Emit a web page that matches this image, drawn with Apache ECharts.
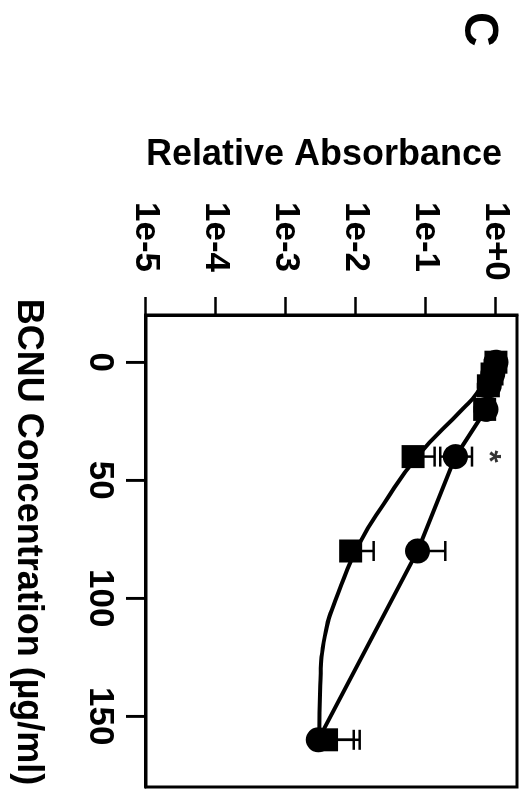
<!DOCTYPE html>
<html>
<head>
<meta charset="utf-8">
<script src="https://cdn.jsdelivr.net/npm/echarts@6/dist/echarts.min.js"></script>
<style>
  html, body { margin: 0; padding: 0; background: #fff; overflow: hidden; }
  #wrap { position: absolute; left: 0; top: 0; width: 522px; height: 790px; overflow: hidden; }
  /* the plot is laid out landscape and turned a quarter turn clockwise */
  #chart { position: absolute; left: 0; top: 0; width: 790px; height: 522px;
           transform-origin: 0 0; transform: translate(522px, 0) rotate(90deg); }
</style>
</head>
<body>
<div id="wrap"><div id="chart"></div></div>
<script>
// BCNU dose (µg/ml)
const doses = [0, 5, 10, 20, 40, 80, 160];
// mean relative absorbance, square group
const squareMeans = [1.0, 0.88, 0.78, 0.69, 0.0655, 0.0084, 0.0038];
// mean relative absorbance, circle group
const circleMeans = [1.0, 0.9, 0.8, 0.72, 0.264, 0.076, 0.0029];
// upper ends of the error bars (null = no visible bar)
const squareUpper = [null, null, null, null, 0.133, 0.0179, 0.0113];
const circleUpper = [null, null, null, null, 0.455, 0.189, 0.0093];
const circleLower = [null, null, null, null, 0.16, null, null];
// fitted curve for the square group
const squareFitDoses = [0, 13, 20, 40, 60, 76, 99, 116, 137, 160];
const squareFit = [0.95, 0.54, 0.33, 0.075, 0.025, 0.0116, 0.0054, 0.0036, 0.0031, 0.003];
// significance mark
const starDoses = [40];
const starLevels = [1.0];
// axis ticks
const doseTicks = [0, 50, 100, 150];
const absTicks = [1e-5, 1e-4, 1e-3, 1e-2, 1e-1, 1];

const FONT = '"Liberation Sans", Arial, Helvetica, sans-serif';
const GRID = { left: 315, top: 5, width: 472, height: 371 };
const zip = (a, b) => a.map((v, i) => [v, b[i]]);

function errorBars(means, upper, lower) {
  const data = [];
  doses.forEach((d, i) => {
    if (upper[i] != null || (lower && lower[i] != null)) {
      data.push([d, means[i], upper[i] != null ? upper[i] : means[i],
                 lower && lower[i] != null ? lower[i] : means[i]]);
    }
  });
  return {
    type: 'custom',
    z: 2,
    data: data,
    encode: { x: 0, y: [1, 2, 3] },
    renderItem: function (params, api) {
      const x = api.value(0);
      const mid = api.coord([x, api.value(1)]);
      const hi = api.coord([x, api.value(2)]);
      const lo = api.coord([x, api.value(3)]);
      const half = 10;
      const st = { stroke: '#000', lineWidth: 2.5 };
      const kids = [];
      [hi, lo].forEach(function (p) {
        if (Math.abs(p[1] - mid[1]) > 0.5) {
          kids.push({ type: 'line', shape: { x1: mid[0], y1: mid[1], x2: p[0], y2: p[1] }, style: st });
          kids.push({ type: 'line', shape: { x1: p[0] - half, y1: p[1], x2: p[0] + half, y2: p[1] }, style: st });
        }
      });
      return { type: 'group', children: kids };
    }
  };
}

const chart = echarts.init(document.getElementById('chart'), null, { renderer: 'canvas' });
chart.setOption({
  animation: false,
  backgroundColor: '#fff',
  title: {
    text: 'C', left: 7, top: 15,
    textStyle: { fontFamily: FONT, fontSize: 48, fontWeight: 'bold', color: '#000' }
  },
  grid: Object.assign({
    show: true, borderColor: '#000', borderWidth: 3, backgroundColor: 'transparent'
  }, GRID),
  xAxis: {
    type: 'value', min: -20, max: 180, position: 'bottom',
    name: 'BCNU Concentration (µg/ml)', nameLocation: 'middle', nameGap: 100,
    nameTextStyle: { fontFamily: FONT, fontSize: 36, fontWeight: 'bold', color: '#000', padding: [0, 18, 0, 0] },
    axisLine: { show: true, onZero: false, lineStyle: { color: '#000', width: 3 } },
    axisTick: { show: true, inside: false, length: 20, customValues: doseTicks, lineStyle: { color: '#000', width: 2.5 } },
    axisLabel: { show: false },
    splitLine: { show: false }
  },
  yAxis: {
    type: 'log', logBase: 10, min: 1e-5, max: 2, position: 'left',
    name: 'Relative Absorbance', nameLocation: 'middle', nameGap: 142,
    nameTextStyle: { fontFamily: FONT, fontSize: 36, fontWeight: 'bold', color: '#000', padding: [0, 15, 0, 0] },
    axisLine: { show: true, onZero: false, lineStyle: { color: '#000', width: 3 } },
    axisTick: { show: true, inside: false, length: 18, customValues: absTicks, lineStyle: { color: '#000', width: 2.5 } },
    axisLabel: {
      customValues: absTicks, margin: 113, align: 'left',
      fontFamily: FONT, fontSize: 35, fontWeight: 'bold', color: '#000',
      formatter: function (v) {
        const e = Math.round(Math.log10(v));
        return '1e' + (e >= 0 ? '+' + e : String(e));
      }
    },
    splitLine: { show: false }
  },
  series: [
    {
      type: 'line', data: zip(squareFitDoses, squareFit), smooth: 0.5,
      showSymbol: false, z: 3,
      lineStyle: { color: '#000', width: 4 }
    },
    {
      type: 'line', data: zip(doses, circleMeans), z: 3,
      showSymbol: false,
      lineStyle: { color: '#000', width: 4 }
    },
    errorBars(squareMeans, squareUpper, null),
    errorBars(circleMeans, circleUpper, circleLower),
    {
      type: 'scatter', data: zip(doses, circleMeans), z: 4,
      symbol: 'circle', symbolSize: 25, itemStyle: { color: '#000', opacity: 1 }
    },
    {
      type: 'scatter', data: zip(doses, squareMeans), z: 5,
      symbol: 'rect', symbolSize: 23, itemStyle: { color: '#000', opacity: 1 }
    },
    {
      type: 'scatter', data: zip(starDoses, starLevels), z: 5,
      symbolSize: 1, itemStyle: { color: 'rgba(0,0,0,0)' },
      label: {
        show: true, position: 'inside', formatter: '*', offset: [0, 8],
        fontFamily: FONT, fontSize: 32, fontWeight: 'bold', color: '#000'
      }
    }
  ]
});

// dose-axis tick marks and their numbers below the plot, placed along the dose scale
const edge = GRID.top + GRID.height;
const doseMarks = [];
doseTicks.forEach(function (t) {
  const px = chart.convertToPixel({ gridIndex: 0 }, [t, 0.1])[0];
  doseMarks.push({
    type: 'line', silent: true, z: 100,
    shape: { x1: px, y1: edge, x2: px, y2: edge + 20 },
    style: { stroke: '#000', lineWidth: 2.5 }
  });
  doseMarks.push({
    type: 'text', silent: true, z: 100, x: px, y: edge + 29,
    style: {
      text: String(t), fill: '#000', align: 'center', verticalAlign: 'top',
      fontFamily: FONT, fontSize: 35, fontWeight: 'bold'
    }
  });
});
chart.setOption({ graphic: { elements: doseMarks } });
</script>
</body>
</html>
